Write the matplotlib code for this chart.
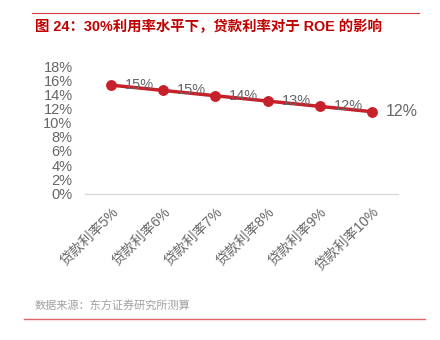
import matplotlib
matplotlib.use("Agg")
import matplotlib.pyplot as plt
from matplotlib.lines import Line2D

plt.rcParams['font.family'] = ['Liberation Sans', 'Noto Sans CJK SC', 'DejaVu Sans']

# 30%利用率下不同贷款利率对应的ROE
categories = ['贷款利率5%', '贷款利率6%', '贷款利率7%', '贷款利率8%', '贷款利率9%', '贷款利率10%']
roe = [15.3, 14.55, 13.8, 13.05, 12.3, 11.55]
yticks = [0, 2, 4, 6, 8, 10, 12, 14, 16, 18]

title = '图 24：30%利用率水平下，贷款利率对于 ROE 的影响'
source = '数据来源：东方证券研究所测算'

red = '#C8202A'
gray = '#666666'

fig = plt.figure(figsize=(4.4, 3.4), dpi=100)
W, H = 440, 340
ax = fig.add_axes([85 / W, 1 - 193.5 / H, (398 - 85) / W, (193.5 - 66) / H])

x = list(range(len(categories)))
ax.plot(x, roe, color=red, lw=2.5, marker='o', ms=6.8, solid_capstyle='round', zorder=3)
for xi, v in zip(x, roe):
    fs = 11.5 if xi == len(x) - 1 else 10.5
    ax.annotate(f'{v:.0f}%', (xi, v), xytext=(10, 0), textcoords='offset points',
                ha='left', va='center', fontsize=fs, color=gray, zorder=4)

ax.set_xlim(-0.5, len(x) - 0.5)
ax.set_ylim(0, 18)
ax.set_yticks(yticks)
ax.set_yticklabels([f'{t}%' for t in yticks], fontsize=10.5, color=gray)
ax.set_xticks(x)
ax.set_xticklabels(categories, rotation=45, ha='right', rotation_mode='anchor',
                   fontsize=10, color=gray)
ax.tick_params(axis='both', length=0)
ax.tick_params(axis='y', pad=9)
ax.tick_params(axis='x', pad=8)
for s in ['top', 'right', 'left']:
    ax.spines[s].set_visible(False)
ax.spines['bottom'].set_color('#D9D9D9')
ax.spines['bottom'].set_linewidth(1)

# 标题、分隔线和数据来源
fig.add_artist(Line2D([32 / W, 419 / W], [1 - 13 / H, 1 - 13 / H], color='#D9393E', lw=0.8))
fig.text(35 / W, 1 - 26.5 / H, title, fontsize=10.4, color='#C00000', fontweight='bold',
         ha='left', va='center')
fig.text(35 / W, 1 - 306 / H, source, fontsize=8, color='#A0A0A0',
         family=['Noto Sans CJK SC'], ha='left', va='center')
fig.add_artist(Line2D([24 / W, 425 / W], [1 - 319 / H, 1 - 319 / H], color='#E06666', lw=1))

fig.savefig('out.png', dpi=100)
